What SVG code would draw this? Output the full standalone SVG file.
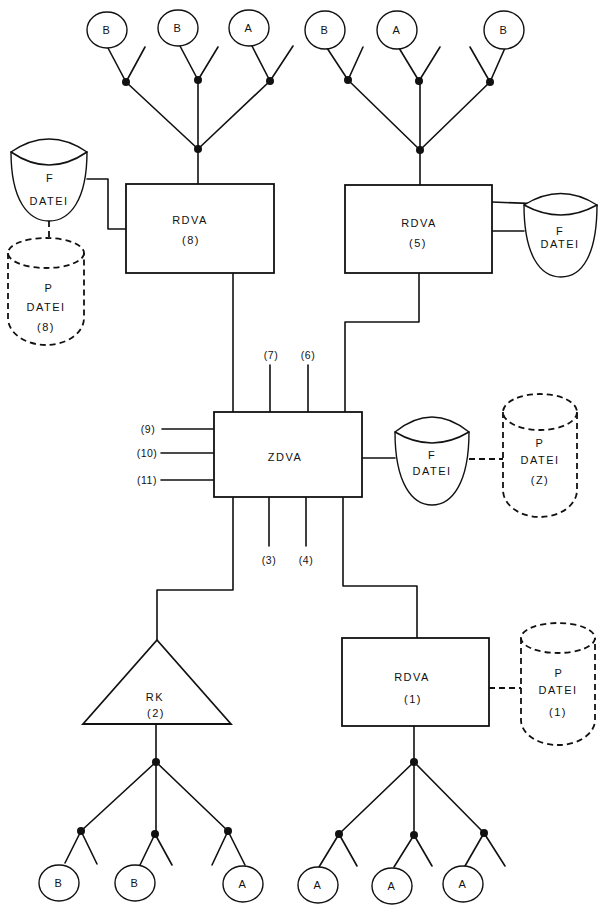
<svg xmlns="http://www.w3.org/2000/svg" width="600" height="909" viewBox="0 0 600 909">
<style>
.ln{fill:none;stroke:#111;stroke-width:1.6;stroke-linecap:round;stroke-linejoin:round}
.dl{fill:none;stroke:#111;stroke-width:1.8;stroke-dasharray:6,4}
.bx{fill:#fff;stroke:#111;stroke-width:1.8}
.nd{fill:#fff;stroke:#111;stroke-width:1.4}
.dot{fill:#111}
text{font-family:"Liberation Sans",Arial,sans-serif;font-size:11px;fill:#111;text-anchor:middle;letter-spacing:1.5px}
.s{font-size:10.5px;letter-spacing:0.5px}
</style>
<rect width="600" height="909" fill="#fff"/>
<g id="connectors">
<!-- top-left tree -->
<path class="ln" d="M198,184 V149 M198,149 L126,82 M198,149 V80 M198,149 L270,81 M126,82 L108,48 M126,82 L145,47 M198,80 L180,46 M198,80 L218,47 M270,81 L252,46 M270,81 L293,46"/>
<!-- top-right tree -->
<path class="ln" d="M420,185 V150 M420,150 L348,80 M420,150 V81 M420,150 L490,82 M348,80 L327,48 M348,80 L363,47 M419,81 L399,48 M419,81 L440,47 M490,82 L470,47 M490,82 L505,48"/>
<!-- RDVA8 to F file -->
<path class="ln" d="M87,179 H108 V229 H126"/>
<path class="dl" d="M49,221 V237"/>
<!-- RDVA5 to F file -->
<path class="ln" d="M492,202 L597,206 M492,231 H524"/>
<!-- RDVA8 to ZDVA -->
<path class="ln" d="M233,273 V412"/>
<!-- RDVA5 to ZDVA -->
<path class="ln" d="M419,273 V322 H345 V412"/>
<!-- (7) (6) -->
<path class="ln" d="M270,365 V412 M308,365 V412"/>
<!-- (9) (10) (11) -->
<path class="ln" d="M162,429 H214 M161,453 H214 M161,480 H214"/>
<!-- (3) (4) -->
<path class="ln" d="M269,497 V546 M306,497 V546"/>
<!-- ZDVA to F file Z, P file Z -->
<path class="ln" d="M362,458 H395"/>
<path class="dl" d="M469,459 H503"/>
<!-- ZDVA to RK -->
<path class="ln" d="M233,497 V590 H157 V640"/>
<!-- ZDVA to RDVA1 -->
<path class="ln" d="M343,497 V586 H417 V638"/>
<path class="dl" d="M489,688 H521"/>
<!-- bottom-left tree -->
<path class="ln" d="M156,724 V762 M156,762 L81,831 M156,762 V834 M156,762 L228,831 M81,831 L65,863 M81,831 L97,864 M155,834 L140,865 M155,834 L172,865 M228,831 L212,865 M228,831 L245,865"/>
<!-- bottom-right tree -->
<path class="ln" d="M414,726 V762 M414,762 L339,834 M414,762 V835 M414,762 L484,833 M339,834 L319,867 M339,834 L357,866 M414,835 L394,867 M414,835 L432,866 M484,833 L465,866 M484,833 L505,866"/>
<g class="dot">
<circle cx="126" cy="82" r="4"/><circle cx="198" cy="80" r="4"/><circle cx="270" cy="81" r="4"/><circle cx="198" cy="149" r="4"/>
<circle cx="348" cy="80" r="4"/><circle cx="419" cy="81" r="4"/><circle cx="490" cy="82" r="4"/><circle cx="420" cy="150" r="4"/>
<circle cx="156" cy="762" r="4"/><circle cx="81" cy="831" r="4"/><circle cx="155" cy="834" r="4"/><circle cx="228" cy="831" r="4"/>
<circle cx="414" cy="762" r="4"/><circle cx="339" cy="834" r="4"/><circle cx="414" cy="835" r="4"/><circle cx="484" cy="833" r="4"/>
</g>
</g>
<g id="term-top">
<ellipse class="nd" cx="107" cy="30" rx="20" ry="18"/><text x="107" y="34">B</text>
<ellipse class="nd" cx="178" cy="28" rx="20" ry="18"/><text x="178" y="32">B</text>
<ellipse class="nd" cx="249" cy="28" rx="20" ry="18"/><text x="249" y="32">A</text>
<ellipse class="nd" cx="325" cy="30" rx="20" ry="19"/><text x="325" y="34">B</text>
<ellipse class="nd" cx="397" cy="30" rx="20" ry="19"/><text x="397" y="34">A</text>
<ellipse class="nd" cx="504" cy="30" rx="20" ry="19"/><text x="504" y="34">B</text>
</g>
<g id="term-bottom">
<ellipse class="nd" cx="59" cy="883" rx="20" ry="18"/><text x="59" y="887">B</text>
<ellipse class="nd" cx="135" cy="883" rx="20" ry="18"/><text x="135" y="887">B</text>
<ellipse class="nd" cx="243" cy="884" rx="20" ry="18"/><text x="243" y="888">A</text>
<ellipse class="nd" cx="318" cy="885" rx="20" ry="18"/><text x="318" y="889">A</text>
<ellipse class="nd" cx="392" cy="886" rx="20" ry="18"/><text x="392" y="890">A</text>
<ellipse class="nd" cx="463" cy="884" rx="20" ry="18"/><text x="463" y="888">A</text>
</g>
<g id="rdva8">
<rect class="bx" x="126" y="184" width="148" height="89"/>
<text x="190" y="224">RDVA</text><text x="191" y="244">(8)</text>
</g>
<g id="rdva5">
<rect class="bx" x="345" y="185" width="147" height="88"/>
<text x="419" y="227">RDVA</text><text x="418" y="247">(5)</text>
</g>
<g id="zdva">
<rect class="bx" x="214" y="412" width="148" height="85"/>
<text x="285" y="461">ZDVA</text>
</g>
<g id="rdva1">
<rect class="bx" x="342" y="638" width="147" height="88"/>
<text x="412" y="681">RDVA</text><text x="413" y="703">(1)</text>
</g>
<g id="rk2">
<path class="bx" d="M157,640 L83,724 H231 Z"/>
<text x="155" y="701">RK</text><text x="156" y="717">(2)</text>
</g>
<g id="fdatei8">
<path class="nd" d="M11,152 C11,200 28,221 49,221 C70,221 87,200 87,152 Q49,126 11,152 Z"/>
<path class="ln" d="M11,152 Q49,178 87,152"/>
<text x="50" y="182">F</text><text x="49" y="205">DATEI</text>
</g>
<g id="pdatei8">
<path class="dl" d="M8,253 V318 A38,27 0 0 0 84,318 V253"/>
<ellipse class="dl" cx="46" cy="253" rx="38" ry="15"/>
<text x="49" y="292">P</text><text x="46" y="311">DATEI</text><text x="46" y="331">(8)</text>
</g>
<g id="fdatei5">
<path class="nd" d="M524,205 C524,255 540,277 561,277 C582,277 597,255 597,205 Q561,182 524,205 Z"/>
<path class="ln" d="M524,205 Q561,225 597,205"/>
<text x="560" y="235">F</text><text x="560" y="248">DATEI</text>
</g>
<g id="fdateiz">
<path class="nd" d="M395,432 C395,483 412,505 432,505 C452,505 469,483 469,432 Q432,402 395,432 Z"/>
<path class="ln" d="M395,432 Q432,454 469,432"/>
<text x="432" y="459">F</text><text x="432" y="475">DATEI</text>
</g>
<g id="pdateiz">
<path class="dl" d="M503,412 V490 A37,27 0 0 0 577,490 V412"/>
<ellipse class="dl" cx="540" cy="412" rx="37" ry="18"/>
<text x="540" y="447">P</text><text x="540" y="464">DATEI</text><text x="540" y="484">(Z)</text>
</g>
<g id="pdatei1">
<path class="dl" d="M521,638 V720 A37,25 0 0 0 595,720 V638"/>
<ellipse class="dl" cx="558" cy="638" rx="37" ry="15"/>
<text x="559" y="677">P</text><text x="558" y="694">DATEI</text><text x="558" y="716">(1)</text>
</g>
<g id="port-labels">
<text class="s" x="271" y="359">(7)</text><text class="s" x="308" y="359">(6)</text>
<text class="s" x="148" y="433">(9)</text><text class="s" x="147" y="457">(10)</text><text class="s" x="147" y="484">(11)</text>
<text class="s" x="269" y="564">(3)</text><text class="s" x="306" y="564">(4)</text>
</g>
</svg>
